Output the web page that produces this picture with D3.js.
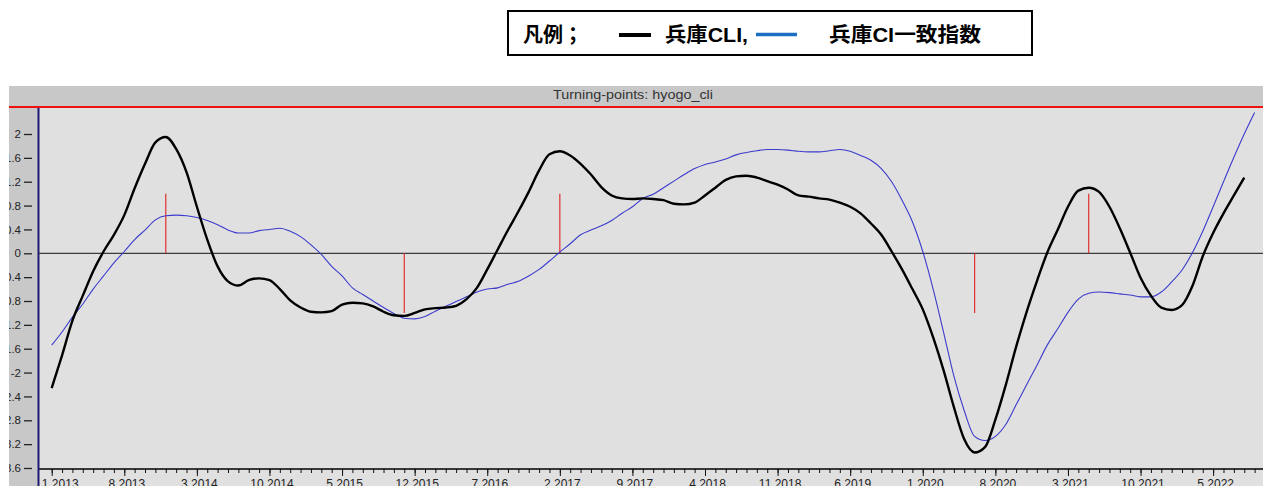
<!DOCTYPE html>
<html>
<head>
<meta charset="utf-8">
<script src="https://cdn.jsdelivr.net/npm/d3@7"></script>
<style>
  html, body { margin: 0; padding: 0; background: #ffffff; overflow: hidden; }
  svg { display: block; }
</style>
</head>
<body>
<svg id="chart" width="1263" height="486"></svg>
<script>
// ---------------- DATA ----------------
// monthly series starting January 2013 (index 0 = 1 2013)
const startYear = 2013;
const startMonth = 1;

const cliValues = [
  -2.26, -1.71, -1.13, -0.71, -0.30, 0.03, 0.31, 0.64, 1.09, 1.50, 1.86, 1.95,
  1.75, 1.36, 0.78, 0.23, -0.22, -0.47, -0.54, -0.45, -0.42, -0.45, -0.60, -0.79,
  -0.91, -0.98, -0.99, -0.97, -0.86, -0.83, -0.84, -0.89, -0.98, -1.04, -1.05, -1.00,
  -0.94, -0.92, -0.91, -0.88, -0.77, -0.58, -0.27, 0.06, 0.39, 0.70, 1.03, 1.39,
  1.66, 1.71, 1.64, 1.50, 1.32, 1.11, 0.97, 0.92, 0.91, 0.92, 0.91, 0.89,
  0.83, 0.82, 0.85, 0.97, 1.10, 1.23, 1.29, 1.30, 1.27, 1.21, 1.15, 1.07,
  0.97, 0.95, 0.92, 0.90, 0.85, 0.78, 0.67, 0.50, 0.31, 0.03, -0.27, -0.60,
  -0.94, -1.41, -1.96, -2.58, -3.12, -3.34, -3.25, -2.79, -2.21, -1.57, -0.99, -0.47,
  0.01, 0.39, 0.78, 1.05, 1.10, 1.03, 0.78, 0.42, 0.01, -0.41, -0.71, -0.91,
  -0.95, -0.87, -0.55, -0.05, 0.34, 0.67, 0.97, 1.27
];

const ciValues = [
  -1.54, -1.32, -1.07, -0.85, -0.60, -0.38, -0.16, 0.03, 0.23, 0.39, 0.56, 0.63,
  0.64, 0.63, 0.60, 0.55, 0.48, 0.39, 0.34, 0.34, 0.38, 0.40, 0.42, 0.37,
  0.28, 0.14, -0.02, -0.22, -0.38, -0.58, -0.69, -0.80, -0.91, -1.01, -1.09, -1.10,
  -1.06, -0.97, -0.89, -0.81, -0.73, -0.65, -0.60, -0.58, -0.52, -0.47, -0.38, -0.27,
  -0.13, 0.02, 0.16, 0.31, 0.39, 0.46, 0.55, 0.67, 0.78, 0.92, 0.99, 1.10,
  1.21, 1.32, 1.42, 1.49, 1.53, 1.58, 1.65, 1.69, 1.72, 1.74, 1.74, 1.73,
  1.71, 1.70, 1.70, 1.72, 1.74, 1.71, 1.64, 1.56, 1.42, 1.20, 0.89, 0.53,
  0.03, -0.60, -1.32, -2.06, -2.64, -3.07, -3.14, -3.07, -2.87, -2.54, -2.21, -1.88,
  -1.54, -1.27, -0.99, -0.77, -0.67, -0.65, -0.66, -0.68, -0.70, -0.73, -0.73, -0.65,
  -0.48, -0.28, 0.01, 0.37, 0.78, 1.20, 1.61, 2.00, 2.36
];

// turning points (month index, marker value)
const turningIndex = [11, 34, 49, 89, 100];
const turningValue = [1, -1, 1, -1, 1];

// axis ticks
const yTickValues = [2, 1.6, 1.2, 0.8, 0.4, 0, -0.4, -0.8, -1.2, -1.6, -2, -2.4, -2.8, -3.2, -3.6];
const xMajorIndex = [0, 7, 14, 21, 28, 35, 42, 49, 56, 63, 70, 77, 84, 91, 98, 105, 112];
const xMajorLabels = ["1 2013", "8 2013", "3 2014", "10 2014", "5 2015", "12 2015", "7 2016",
  "2 2017", "9 2017", "4 2018", "11 2018", "6 2019", "1 2020", "8 2020", "3 2021", "10 2021", "5 2022"];

const legendTitle = "凡例；";
const seriesNames = ["兵庫CLI,", "兵庫CI一致指数"];
const chartTitle = "Turning-points: hyogo_cli";

// ---------------- LAYOUT ----------------
const W = 1263, H = 486;
const panelLeft = 9, panelTop = 86;
const plotLeft = 39, plotTop = 107, plotBottom = 469, plotRight = W;

const svg = d3.select("#chart");

const x = d3.scaleLinear().domain([0, 112]).range([51.7, 51.7 + 112 * 10.37]);
const y = d3.scaleLinear().domain([2, -3.6]).range([134, 468]);

// clip for whole panel
const defs = svg.append("defs");
defs.append("clipPath").attr("id", "panelClip")
  .append("rect").attr("x", panelLeft).attr("y", panelTop).attr("width", W - panelLeft).attr("height", H - panelTop);
defs.append("clipPath").attr("id", "plotClip")
  .append("rect").attr("x", plotLeft).attr("y", plotTop + 1).attr("width", plotRight - plotLeft).attr("height", plotBottom - plotTop - 1);

const panel = svg.append("g").attr("clip-path", "url(#panelClip)");

// backgrounds
panel.append("rect").attr("x", panelLeft).attr("y", panelTop).attr("width", W - panelLeft).attr("height", H - panelTop)
  .attr("fill", "#c8c8c8");
panel.append("rect").attr("x", plotLeft).attr("y", plotTop).attr("width", plotRight - plotLeft).attr("height", H - plotTop)
  .attr("fill", "#e0e0e0");

// title bar text + red line
panel.append("text").attr("x", 633).attr("y", 99).attr("text-anchor", "middle")
  .attr("font-family", "'Liberation Sans', Arial, sans-serif").attr("font-size", 13)
  .attr("fill", "#333").attr("textLength", 160).attr("lengthAdjust", "spacingAndGlyphs")
  .text(chartTitle);
panel.append("line").attr("x1", panelLeft).attr("x2", W).attr("y1", 107).attr("y2", 107)
  .attr("stroke", "#f01010").attr("stroke-width", 2);

// y axis
const yAxis = d3.axisLeft(y).tickValues(yTickValues).tickSize(8).tickPadding(3)
  .tickFormat(d => String(d));
const gy = panel.append("g").attr("transform", "translate(32,0)").call(yAxis);
gy.select(".domain").remove();
gy.selectAll(".tick line").attr("stroke", "#222").attr("stroke-width", 1.3);
gy.selectAll(".tick text").attr("font-family", "'Liberation Sans', Arial, sans-serif")
  .attr("font-size", 11.5).attr("fill", "#222");

// x axis: minor + major ticks
const allMonths = d3.range(0, 117);
const gxMinor = panel.append("g").attr("transform", `translate(0,${plotBottom})`)
  .call(d3.axisBottom(x).tickValues(allMonths).tickSize(4).tickFormat(""));
gxMinor.select(".domain").remove();
gxMinor.selectAll(".tick line").attr("stroke", "#111").attr("stroke-width", 1);

const gxMajor = panel.append("g").attr("transform", `translate(0,${plotBottom})`)
  .call(d3.axisBottom(x).tickValues(xMajorIndex).tickSize(7).tickPadding(3)
    .tickFormat((d, i) => xMajorLabels[i]));
gxMajor.select(".domain").remove();
gxMajor.selectAll(".tick line").attr("stroke", "#111").attr("stroke-width", 1);
gxMajor.selectAll(".tick text").attr("font-family", "'Liberation Sans', Arial, sans-serif")
  .attr("font-size", 12).attr("fill", "#222").attr("dx", (d, i) => i === 0 ? 8 : 2);

// axis lines
panel.append("line").attr("x1", plotLeft).attr("x2", W).attr("y1", plotBottom).attr("y2", plotBottom)
  .attr("stroke", "#000").attr("stroke-width", 1.6);
panel.append("line").attr("x1", 38.5).attr("x2", 38.5).attr("y1", 108).attr("y2", H)
  .attr("stroke", "#1a1a70").attr("stroke-width", 2);

// plot contents
const plot = panel.append("g").attr("clip-path", "url(#plotClip)");

plot.append("line").attr("x1", plotLeft).attr("x2", W).attr("y1", y(0)).attr("y2", y(0))
  .attr("stroke", "#3a3a3a").attr("stroke-width", 1.2);

// turning point markers
plot.selectAll("line.tp").data(turningIndex).enter().append("line").attr("class", "tp")
  .attr("x1", d => x(d)).attr("x2", d => x(d))
  .attr("y1", y(0)).attr("y2", (d, i) => y(turningValue[i]))
  .attr("stroke", "#e03030").attr("stroke-width", 1.2);

const line = d3.line().x((d, i) => x(i)).y(d => y(d)).curve(d3.curveMonotoneX);

plot.append("path").datum(ciValues).attr("d", line)
  .attr("fill", "none").attr("stroke", "#3b3bcc").attr("stroke-width", 1.1);
plot.append("path").datum(cliValues).attr("d", line)
  .attr("fill", "none").attr("stroke", "#000").attr("stroke-width", 2.4).attr("stroke-linejoin", "round");

// ---------------- LEGEND ----------------
const lg = svg.append("g");
lg.append("rect").attr("x", 508).attr("y", 11).attr("width", 524).attr("height", 44)
  .attr("fill", "#fff").attr("stroke", "#000").attr("stroke-width", 2);
const lfont = "'Liberation Sans', 'Noto Sans CJK JP', sans-serif";
lg.append("text").attr("x", 523).attr("y", 42).attr("font-family", lfont).attr("font-weight", "bold")
  .attr("font-size", 20).attr("fill", "#000").text(legendTitle);
lg.append("line").attr("x1", 619).attr("x2", 651).attr("y1", 35).attr("y2", 35)
  .attr("stroke", "#000").attr("stroke-width", 4);
lg.append("text").attr("x", 665).attr("y", 42).attr("font-family", lfont).attr("font-weight", "bold")
  .attr("font-size", 20).attr("fill", "#000").attr("textLength", 83).attr("lengthAdjust", "spacingAndGlyphs")
  .text(seriesNames[0]);
lg.append("line").attr("x1", 756).attr("x2", 797).attr("y1", 34.5).attr("y2", 34.5)
  .attr("stroke", "#1a6fc4").attr("stroke-width", 3.5);
lg.append("text").attr("x", 829).attr("y", 42).attr("font-family", lfont).attr("font-weight", "bold")
  .attr("font-size", 20).attr("fill", "#000").attr("textLength", 152).attr("lengthAdjust", "spacingAndGlyphs")
  .text(seriesNames[1]);
</script>
</body>
</html>
